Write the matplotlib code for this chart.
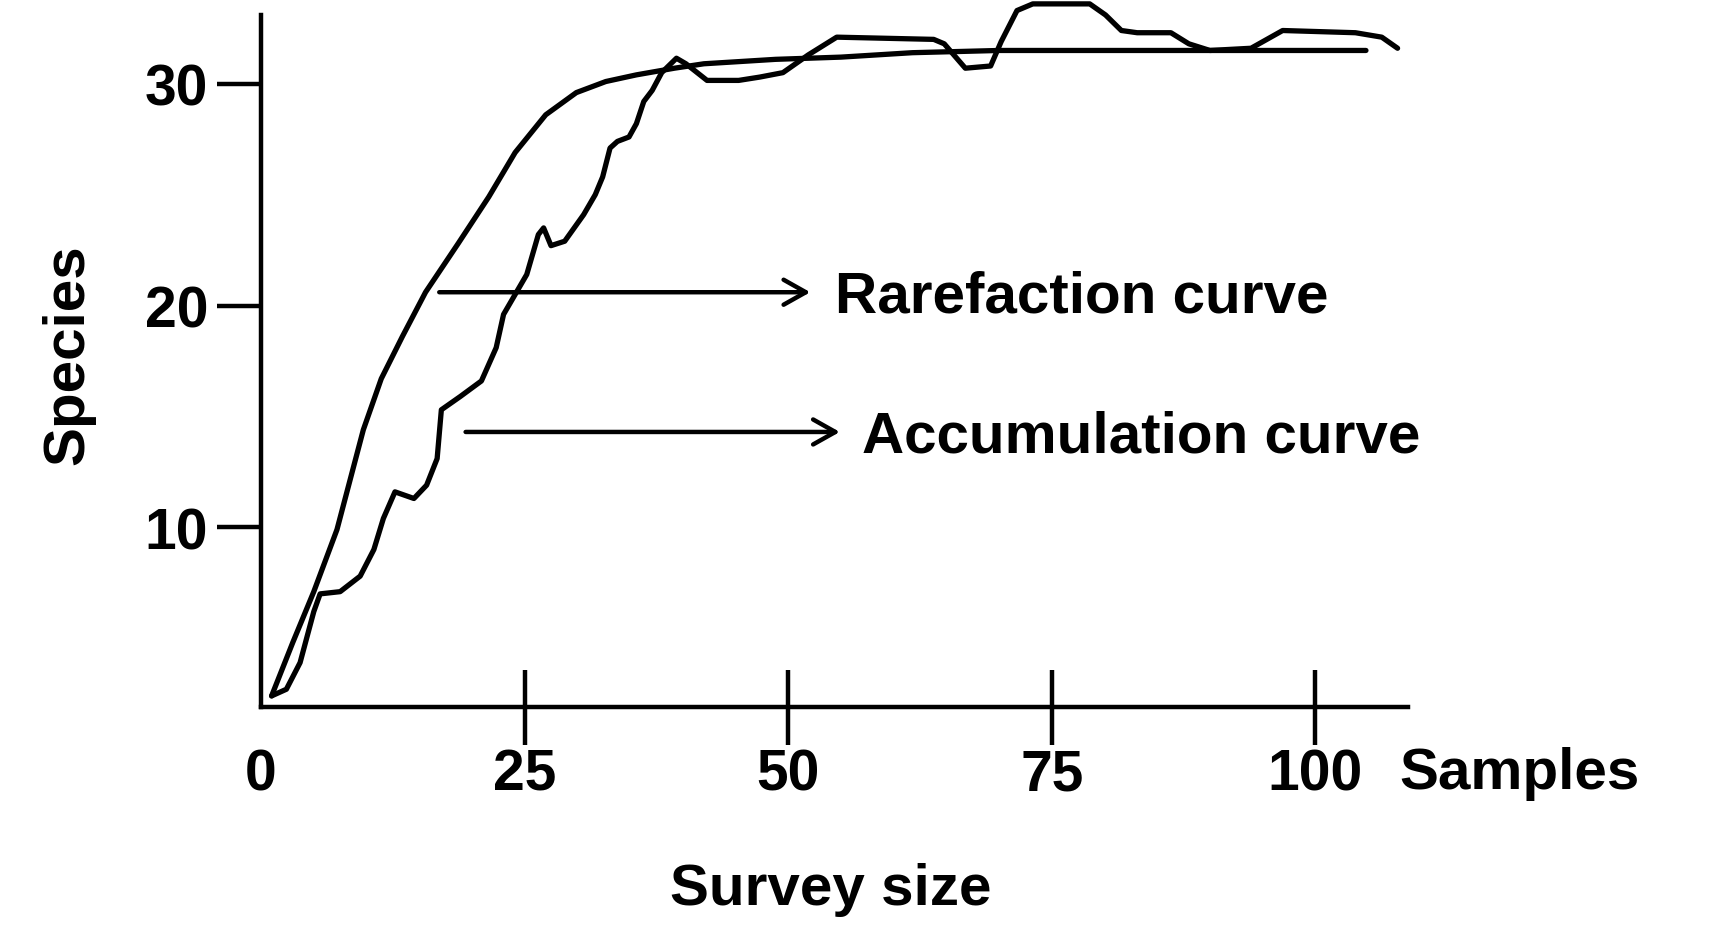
import matplotlib
matplotlib.use("Agg")
import matplotlib.pyplot as plt

# Bold Arial-like text everywhere
plt.rcParams['font.family'] = ['Liberation Sans', 'DejaVu Sans']
plt.rcParams['font.weight'] = 'bold'

# Rarefaction curve (smooth)
rare_x = [1.0, 3.0, 5.0, 7.2, 9.7, 11.4, 13.4, 15.6, 18.7, 21.6, 24.1, 27.0,
          29.9, 32.7, 35.6, 39.2, 42.0, 48.8, 55.0, 61.8, 70.0, 80.0, 90.0, 104.8]
rare_y = [2.4, 4.8, 7.1, 9.9, 14.4, 16.7, 18.6, 20.6, 22.8, 24.9, 26.9, 28.6,
          29.6, 30.1, 30.4, 30.7, 30.9, 31.1, 31.2, 31.4, 31.5, 31.5, 31.5, 31.5]

# Accumulation curve (jagged)
accum_x = [1.0, 2.4, 3.7, 5.0, 5.6, 7.5, 9.4, 10.7, 11.6, 12.7, 14.5, 15.7,
           16.7, 17.1, 18.9, 20.9, 22.3, 23.0, 24.1, 25.2, 26.3, 26.8, 27.5,
           28.8, 30.6, 31.7, 32.4, 33.1, 33.8, 34.9, 35.6, 36.3, 37.1, 38.0,
           39.4, 40.3, 42.3, 45.3, 47.3, 49.5, 51.9, 54.6, 63.8, 64.8, 66.8,
           69.2, 70.2, 71.7, 73.2, 78.6, 80.1, 81.6, 83.1, 86.3, 88.0, 90.0,
           93.9, 96.9, 103.8, 106.3, 107.8]
accum_y = [2.4, 2.7, 3.9, 6.2, 7.0, 7.1, 7.8, 9.0, 10.4, 11.6, 11.3, 11.9,
           13.1, 15.3, 15.9, 16.6, 18.1, 19.6, 20.5, 21.4, 23.2, 23.5, 22.7,
           22.9, 24.1, 25.0, 25.8, 27.1, 27.4, 27.6, 28.2, 29.2, 29.7, 30.5,
           31.15, 30.9, 30.15, 30.15, 30.3, 30.5, 31.3, 32.1, 32.0, 31.8, 30.7,
           30.8, 31.9, 33.3, 33.6, 33.6, 33.1, 32.4, 32.3, 32.3, 31.8, 31.5,
           31.6, 32.4, 32.3, 32.1, 31.6]

x_ticks = [0, 25, 50, 75, 100]
y_ticks = [10, 20, 30]

fig = plt.figure(figsize=(17.21, 9.29), dpi=100)
ax = fig.add_axes([0.1517, 0.2379, 0.6665, 0.7449])

line_kw = dict(color='black', lw=3.8, clip_on=False,
               solid_capstyle='round', solid_joinstyle='round')
ax.plot(rare_x, rare_y, **line_kw)
ax.plot(accum_x, accum_y, **line_kw)

ax.set_xlim(0, 108.8)
ax.set_ylim(1.9, 33.1)
ax.spines[['top', 'right']].set_visible(False)
ax.spines[['left', 'bottom']].set_linewidth(3.2)

ax.set_xticks(x_ticks)
ax.set_yticks(y_ticks)
ax.tick_params(axis='x', direction='inout', length=54, width=3.2, pad=2, labelsize=41)
ax.tick_params(axis='y', direction='out', length=32, width=3.2, pad=6, labelsize=41)
# no tick mark at the origin
ax.xaxis.get_major_ticks()[0].tick1line.set_visible(False)

# arrows pointing to the curve names
arrow_kw = dict(arrowstyle='->,head_length=0.8,head_width=0.45', lw=3.2,
                color='black', mutation_scale=20, shrinkA=0, shrinkB=0)
ax.annotate('', xy=(52.1, 20.6), xytext=(16.9, 20.6), arrowprops=arrow_kw)
ax.annotate('', xy=(54.9, 14.3), xytext=(19.4, 14.3), arrowprops=arrow_kw)
ax.text(54.4, 20.4, 'Rarefaction curve', fontsize=42, va='center', ha='left')
ax.text(57.0, 14.1, 'Accumulation curve', fontsize=42, va='center', ha='left')

fig.text(68 / 1721, 1 - 355 / 929, 'Species', rotation=90, fontsize=42,
         ha='center', va='center')
fig.text(831 / 1721, 1 - 890 / 929, 'Survey size', fontsize=42,
         ha='center', va='center')
fig.text(1399 / 1721, 1 - 774 / 929, 'Samples', fontsize=42,
         ha='left', va='center')

fig.savefig('out.png', dpi=100, facecolor='white')
